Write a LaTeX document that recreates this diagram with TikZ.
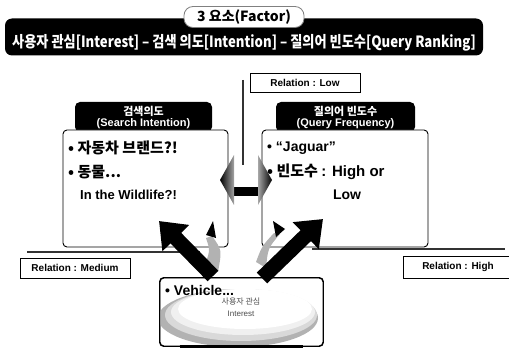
\documentclass[tikz,border=0pt]{standalone}
\usepackage{fontspec}
\setmainfont{Liberation Sans}
\newfontfamily\kr{Noto Sans CJK KR}
\usetikzlibrary{arrows.meta}
\tikzset{
  blk/.style={fill=black, rounded corners=5pt, inner sep=0pt, text=white, align=center, font=\bfseries},
  wbox/.style={draw=black, line width=0.9pt, fill=white, rounded corners=4pt, inner sep=0pt},
  relbox/.style={draw=black, line width=0.8pt, fill=white, inner sep=0pt, font=\bfseries\fontsize{10}{12}\selectfont},
  thin/.style={line width=1.2pt, draw=black!80},
  bigarrow/.style={line width=15pt, -{Triangle[width=36pt,length=24pt]}},
  txt/.style={anchor=west, inner sep=0pt, font=\bfseries}
}
\begin{document}
\begin{tikzpicture}[x=1pt,y=-1pt]
\useasboundingbox (0,0) rectangle (509,350);
% banner
\node[blk, minimum width=478pt, minimum height=37pt, rounded corners=7pt] (banner) at (244,37) {};
\node[text=white, inner sep=0pt] (bantext) at (244,43) {\scalebox{0.85}[1]{\kr\bfseries\fontsize{15.5}{17}\selectfont 사용자 관심[Interest] – 검색 의도[Intention] – 질의어 빈도수[Query Ranking]}};
\node[draw=gray, fill=white, line width=0.8pt, rounded corners=9pt, minimum width=120pt, minimum height=21pt, inner sep=0pt] (tab) at (244,17) {\kr\bfseries\fontsize{14}{16}\selectfont 3 요소(Factor)};
% relation low
\node[relbox, minimum width=110pt, minimum height=19pt] (rlow) at (305,82.5) {Relation : Low};
\coordinate (vt) at (243,80);
\coordinate (vb) at (243,165);
\draw[thin] (vt) -- (vb);
% left header and box
\node[blk, minimum width=137pt, minimum height=30pt] (lh) at (143.5,117) {\kr\fontsize{11}{12}\selectfont 검색의도\\[-1pt]\fontsize{11}{12}\selectfont(Search Intention)};
\node[wbox, minimum width=165pt, minimum height=117pt] (lb) at (145.5,188.5) {};
\node[txt] (l1) at (68,148) {\kr\fontsize{15}{17}\selectfont • 자동차 브랜드?!};
\node[txt] (l2) at (68,172) {\kr\fontsize{15}{17}\selectfont • 동물...};
\node[txt] (l3) at (80,195) {\fontsize{13}{15}\selectfont In the Wildlife?!};
% right header and box
\node[blk, minimum width=139pt, minimum height=30pt] (rh) at (345.5,117) {\kr\fontsize{11}{12}\selectfont 질의어 빈도수\\[-1pt]\fontsize{11}{12}\selectfont(Query Frequency)};
\node[wbox, minimum width=166pt, minimum height=117pt] (rb) at (345,188.5) {};
\node[txt] (r1) at (267,148) {\fontsize{14}{16}\selectfont • “Jaguar”};
\node[txt] (r2) at (267,172) {\kr\fontsize{15}{17}\selectfont • 빈도수 \fontspec{Liberation Sans}: High or};
\node[inner sep=0pt, font=\bfseries] (r3) at (347,195) {\fontsize{14}{16}\selectfont Low};
% horizontal double arrow
\fill[black] (233,187) rectangle (259,196);
\shade[left color=black, right color=gray!70] (234,155) -- (220,180) -- (234,205) -- cycle;
\shade[left color=gray!70, right color=black] (258,155) -- (272,180) -- (258,205) -- cycle;
% lines for medium/high
\coordinate (ml1) at (27,252);
\coordinate (ml2) at (200,252);
\draw[thin] (ml1) -- (ml2);
\coordinate (hl1) at (312,249);
\coordinate (hl2) at (505,249);
\draw[thin] (hl1) -- (hl2);
\node[relbox, minimum width=110pt, minimum height=20pt] (rmed) at (75,268) {Relation : Medium};
\node[relbox, minimum width=110pt, minimum height=22pt] (rhigh) at (458,267) {Relation : High};
% bottom box
\node[wbox, minimum width=163pt, minimum height=68pt] (bb) at (241.5,312) {};
\begin{scope}
\clip[rounded corners=4pt] (bb.south west) rectangle (bb.north east);
\fill[gray!60] (238,318) ellipse [x radius=80pt, y radius=29pt];
\fill[gray!30] (241,315) ellipse [x radius=76pt, y radius=26pt];
\fill[gray!12] (243,312) ellipse [x radius=72pt, y radius=23pt];
\fill[white] (245,309) ellipse [x radius=67pt, y radius=20pt];
\end{scope}
\draw[line width=0.9pt, rounded corners=4pt] (bb.south west) rectangle (bb.north east);
\draw[line width=2.5pt] ([xshift=20pt]bb.south west) -- ([xshift=-20pt]bb.south east);
\node[txt] (v1) at (165,290) {\fontsize{14}{16}\selectfont • Vehicle...};
\node[inner sep=0pt, align=center, text=black!70] (v2) at (241,307) {\kr\fontsize{8}{9}\selectfont 사용자 관심\\\fontsize{8}{9}\selectfont Interest};
% diagonal arrows
\coordinate (la1) at (213,276);
\coordinate (la2) at (159,221);
\coordinate (ra1) at (262,278);
\coordinate (ra2) at (323,219);
\fill[gray!60] (212,236) .. controls (222,250) .. (218,272) -- (206,262) .. controls (210,250) .. (206,238) -- cycle;
\fill[gray!60] (280,234) .. controls (268,248) .. (266,268) -- (256,262) .. controls (262,246) .. (274,233) -- cycle;
\draw[bigarrow] (la1) -- (la2);
\draw[bigarrow] (ra1) -- (ra2);
\fill[black] (206,235) -- (213,221) -- (216,238) -- cycle;
\fill[black] (273,221) -- (285,229) -- (276,237) -- cycle;
\end{tikzpicture}
\end{document}
